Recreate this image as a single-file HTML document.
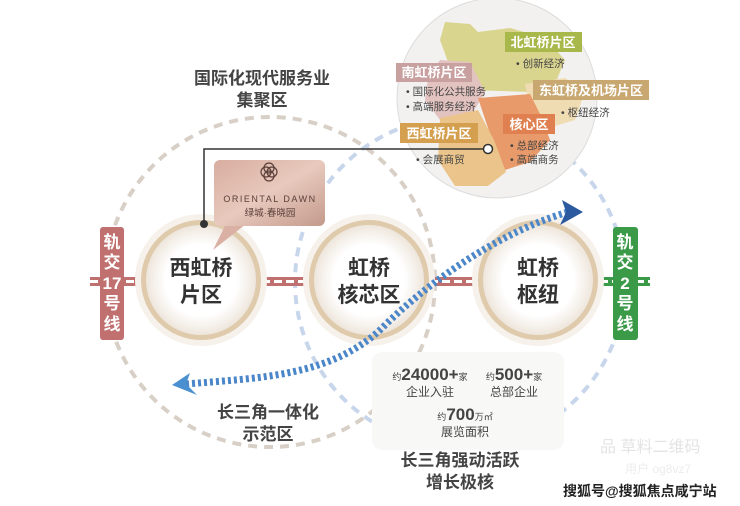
<!DOCTYPE html>
<html><head><meta charset="utf-8"><style>
html,body{margin:0;padding:0;background:#fff;}
svg{display:block;}
text{font-family:"Liberation Sans","Noto Sans CJK SC",sans-serif;}
</style></head><body>
<svg width="740" height="506" viewBox="0 0 740 506" xmlns="http://www.w3.org/2000/svg">
<defs>
<radialGradient id="cg" cx="50%" cy="50%" r="50%">
<stop offset="0.65" stop-color="#ffffff"/><stop offset="1" stop-color="#eee6dc"/>
</radialGradient>
<linearGradient id="lg" x1="0" y1="0" x2="1" y2="1">
<stop offset="0" stop-color="#d8ada0"/><stop offset="0.5" stop-color="#e8c9bd"/><stop offset="1" stop-color="#c39a8c"/>
</linearGradient>
</defs>
<circle cx="270" cy="282" r="165" fill="none" stroke="#d8cfc6" stroke-width="4" stroke-dasharray="9 7"/>
<circle cx="460" cy="282" r="165" fill="none" stroke="#c8d6ec" stroke-width="4" stroke-dasharray="9 7"/>
<rect x="372" y="352" width="192" height="98" rx="10" fill="#f8f8f7"/>
<g>
<rect x="90" y="277" width="50" height="9" fill="#c0706f"/>
<line x1="90" y1="281.5" x2="140" y2="281.5" stroke="#fff" stroke-width="3" stroke-dasharray="8 4"/>
<rect x="262" y="277" width="45" height="9" fill="#c0706f"/>
<line x1="262" y1="281.5" x2="307" y2="281.5" stroke="#fff" stroke-width="3" stroke-dasharray="8 4"/>
<rect x="430" y="277" width="45" height="9" fill="#c0706f"/>
<line x1="430" y1="281.5" x2="475" y2="281.5" stroke="#fff" stroke-width="3" stroke-dasharray="8 4"/>
<rect x="600" y="277" width="50" height="9" fill="#3a9a48"/>
<line x1="600" y1="281.5" x2="650" y2="281.5" stroke="#fff" stroke-width="3" stroke-dasharray="8 4"/>
</g>
<g>
<circle cx="201" cy="280" r="66" fill="#f6f1eb"/>
<circle cx="201" cy="280" r="60" fill="#dfcaac"/>
<circle cx="201" cy="280" r="55" fill="url(#cg)"/>
<circle cx="369" cy="280" r="66" fill="#f6f1eb"/>
<circle cx="369" cy="280" r="60" fill="#dfcaac"/>
<circle cx="369" cy="280" r="55" fill="url(#cg)"/>
<circle cx="538" cy="280" r="66" fill="#f6f1eb"/>
<circle cx="538" cy="280" r="60" fill="#dfcaac"/>
<circle cx="538" cy="280" r="55" fill="url(#cg)"/>
</g>
<g font-size="21" font-weight="bold" fill="#333" text-anchor="middle">
<text x="201" y="275">西虹桥</text><text x="201" y="302">片区</text>
<text x="369" y="275">虹桥</text><text x="369" y="302">核芯区</text>
<text x="538" y="275">虹桥</text><text x="538" y="302">枢纽</text>
</g>
<rect x="100" y="227" width="24" height="113" rx="3" fill="#c0706f"/>
<g font-size="17" font-weight="bold" fill="#fff" text-anchor="middle">
<text x="112" y="248">轨</text><text x="112" y="268">交</text><text x="112" y="289">17</text><text x="112" y="309">号</text><text x="112" y="330">线</text>
</g>
<rect x="613" y="227" width="25" height="113" rx="3" fill="#3a9a48"/>
<g font-size="17" font-weight="bold" fill="#fff" text-anchor="middle">
<text x="625" y="248">轨</text><text x="625" y="268">交</text><text x="625" y="289">2</text><text x="625" y="309">号</text><text x="625" y="330">线</text>
</g>
<circle cx="497" cy="98" r="100" fill="#f2f1f0" stroke="#dcdcdc" stroke-width="1"/>
<path d="M445,22 L470,24 L478,32 L510,28 L545,38 L565,60 L555,84 L530,92 L470,90 L448,62 L440,40 Z" fill="#d9d58f"/>
<path d="M440,60 L470,62 L485,92 L472,114 L440,120 L425,100 L428,78 Z" fill="#e2c3c0"/>
<path d="M525,84 L565,78 L585,92 L575,120 L548,128 L530,110 Z" fill="#f0dcb3"/>
<path d="M478,98 L530,94 L542,118 L550,140 L530,162 L505,170 L492,140 Z" fill="#e89a6a"/>
<path d="M440,118 L478,110 L494,140 L506,172 L488,186 L455,186 L438,160 Z" fill="#eac48a"/>
<rect x="505" y="32" width="77" height="20" fill="#a8b84a"/>
<text x="543" y="47" font-size="13" font-weight="bold" fill="#fff" text-anchor="middle">北虹桥片区</text>
<text x="516" y="67" font-size="10.5" fill="#444">• 创新经济</text>
<rect x="396" y="63" width="76" height="19" fill="#c9a0a0"/>
<text x="434" y="77" font-size="13" font-weight="bold" fill="#fff" text-anchor="middle">南虹桥片区</text>
<text x="406" y="95" font-size="10.5" fill="#444">• 国际化公共服务</text>
<text x="406" y="110" font-size="10.5" fill="#444">• 高端服务经济</text>
<rect x="533" y="80" width="116" height="20" fill="#c8a870"/>
<text x="591" y="95" font-size="13" font-weight="bold" fill="#fff" text-anchor="middle">东虹桥及机场片区</text>
<text x="561" y="116" font-size="10.5" fill="#444">• 枢纽经济</text>
<rect x="400" y="123" width="78" height="20" fill="#d4a050"/>
<text x="439" y="138" font-size="13" font-weight="bold" fill="#fff" text-anchor="middle">西虹桥片区</text>
<text x="416" y="163" font-size="10.5" fill="#444">• 会展商贸</text>
<rect x="503" y="114" width="52" height="20" fill="#e08050"/>
<text x="529" y="129" font-size="13" font-weight="bold" fill="#fff" text-anchor="middle">核心区</text>
<text x="510" y="149" font-size="10.5" fill="#444">• 总部经济</text>
<text x="510" y="163" font-size="10.5" fill="#444">• 高端商务</text>
<polyline points="488,149 204,149 204,223" fill="none" stroke="#333" stroke-width="1.5"/>
<circle cx="488" cy="149" r="4.5" fill="#fff" stroke="#333" stroke-width="1.5"/>
<circle cx="204" cy="224" r="4" fill="#333"/>
<path d="M226,224 L246,224 L213,250 Z" fill="#d9b0a3"/>
<rect x="214" y="160" width="111" height="66" rx="6" fill="url(#lg)"/>
<g fill="none" stroke="#5a3f38" stroke-width="1.2">
<circle cx="266" cy="172" r="5"/><circle cx="272" cy="172" r="5"/><circle cx="269" cy="168" r="5"/><circle cx="269" cy="176" r="5"/>
</g>
<text x="270" y="202" font-size="9" fill="#5a3f38" text-anchor="middle" font-family="Liberation Serif,serif" letter-spacing="1.5">ORIENTAL DAWN</text>
<text x="270" y="216" font-size="9.5" fill="#5a3f38" text-anchor="middle">绿城·春晓园</text>
<g font-size="17" font-weight="bold" fill="#444" text-anchor="middle">
<text x="262" y="84">国际化现代服务业</text><text x="262" y="106">集聚区</text>
<text x="268" y="418">长三角一体化</text><text x="268" y="440">示范区</text>
<text x="460" y="466">长三角强动活跃</text><text x="460" y="488">增长极核</text>
</g>
<path d="M186,384 C260,378 330,376 380,330 C430,280 500,232 568,212" fill="none" stroke="#4a86c8" stroke-width="7" stroke-dasharray="3 3"/>
<path d="M172,385 L190,373 L186,384 L197,395 Z" fill="#4a90d0"/>
<path d="M583,212 L562,200 L566,212 L560,225 Z" fill="#2c5aa0"/>
<g fill="#444" text-anchor="middle" font-weight="bold">
<text x="430" y="380"><tspan font-size="9" font-weight="normal">约</tspan><tspan font-size="17">24000+</tspan><tspan font-size="9" font-weight="normal">家</tspan></text>
<text x="430" y="396" font-size="12" font-weight="normal">企业入驻</text>
<text x="514" y="380"><tspan font-size="9" font-weight="normal">约</tspan><tspan font-size="17">500+</tspan><tspan font-size="9" font-weight="normal">家</tspan></text>
<text x="514" y="396" font-size="12" font-weight="normal">总部企业</text>
<text x="465" y="420"><tspan font-size="9" font-weight="normal">约</tspan><tspan font-size="17">700</tspan><tspan font-size="9" font-weight="normal">万㎡</tspan></text>
<text x="465" y="436" font-size="12" font-weight="normal">展览面积</text>
</g>
<text x="600" y="452" font-size="16" fill="#e4e4e4">品 草料二维码</text>
<text x="625" y="473" font-size="12" fill="#ececec">用户 og8vz7</text>
<text x="563" y="496" font-size="14" fill="#222" font-weight="bold">搜狐号@搜狐焦点咸宁站</text>
</svg>
</body></html>
